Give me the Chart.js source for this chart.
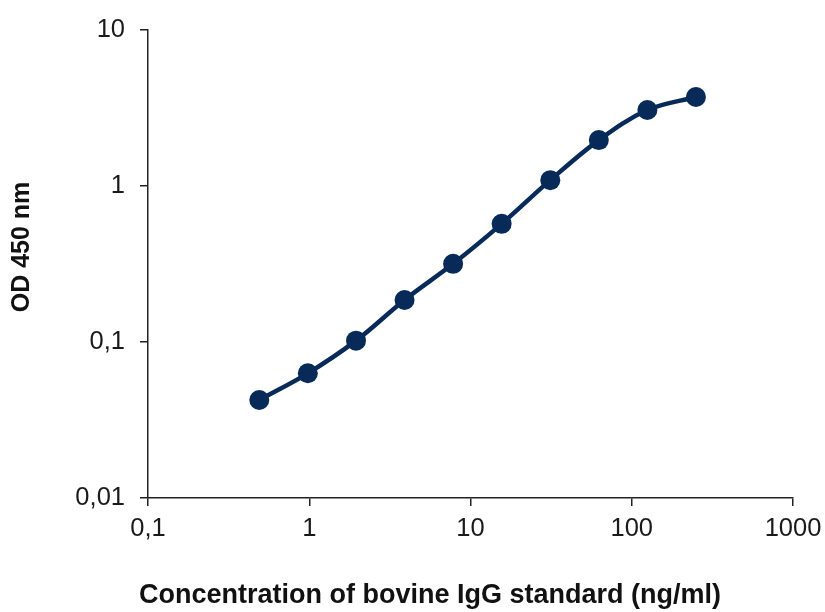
<!DOCTYPE html>
<html>
<head>
<meta charset="utf-8">
<script src="https://cdn.jsdelivr.net/npm/chart.js@4.4.1/dist/chart.umd.min.js"></script>
<style>
    html, body { margin: 0; padding: 0; background: #fff; }
    #wrap { width: 825px; height: 612px; }
</style>
</head>
<body>
<div id="wrap"><canvas id="curveChart"></canvas></div>
<script>
// Bovine IgG standard curve (2-fold dilutions)
const concentrations = [0.49, 0.98, 1.95, 3.9, 7.8, 15.6, 31.25, 62.5, 125, 250];
const odValues = [0.0425, 0.063, 0.102, 0.186, 0.317, 0.572, 1.09, 1.97, 3.07, 3.72];
const xTicks = [0.1, 1, 10, 100, 1000];
const yTicks = [0.01, 0.1, 1, 10];
const xTitle = 'Concentration of bovine IgG standard (ng/ml)';
const yTitle = 'OD 450 nm';

const navy = '#072a58';
const axisColor = '#222222';
const fontFamily = 'Arial, "Liberation Sans", Helvetica, sans-serif';

// Decimal comma, like the original
function formatTick(value) {
    return String(value).replace('.', ',');
}

const points = concentrations.map((c, i) => ({ x: c, y: odValues[i] }));

/**
 * Axis titles drawn by hand: in the original they are not centred on the plot area
 */
const axisTitles = {
    id: 'axisTitles',
    afterDraw(chart) {
        const c = chart.ctx;
        c.save();
        c.fillStyle = '#111';
        c.textAlign = 'center';
        c.textBaseline = 'middle';
        c.font = 'bold 27px ' + fontFamily;
        c.fillText(xTitle, 430, 596);
        c.font = 'bold 25px ' + fontFamily;
        c.translate(22, 247);
        c.rotate(-Math.PI / 2);
        c.fillText(yTitle, 0, 0);
        c.restore();
    }
};

const ctx = document.getElementById('curveChart');

new Chart(ctx, {
    type: 'line',
    data: {
        datasets: [{
            label: yTitle,
            data: points,
            borderColor: navy,
            backgroundColor: navy,
            borderWidth: 4.5,
            tension: 0.35,
            pointRadius: 10,
            pointHoverRadius: 10,
            pointBackgroundColor: navy,
            pointBorderColor: navy,
            pointBorderWidth: 0,
            fill: false
        }]
    },
    options: {
        responsive: true,
        maintainAspectRatio: false,
        animation: false,
        layout: {
            padding: { left: 0, right: 32, top: 30, bottom: 0 }
        },
        plugins: {
            legend: { display: false },
            tooltip: { enabled: false }
        },
        scales: {
            x: {
                type: 'logarithmic',
                min: 0.1,
                max: 1000,
                afterBuildTicks: function(scale) {
                    scale.ticks = xTicks.map(v => ({ value: v }));
                },
                afterFit: function(scale) {
                    scale.height = 114;
                    // let the layout padding decide the plot edges, not the label widths
                    scale.paddingLeft = 0;
                    scale.paddingRight = 0;
                },
                border: { display: true, color: axisColor, width: 1.5 },
                grid: {
                    display: true,
                    drawOnChartArea: false,
                    drawTicks: true,
                    tickLength: 8,
                    color: axisColor,
                    lineWidth: 1.5
                },
                ticks: {
                    autoSkip: false,
                    maxRotation: 0,
                    padding: 8,
                    color: '#1a1a1a',
                    font: { family: fontFamily, size: 25.5 },
                    callback: formatTick
                }
            },
            y: {
                type: 'logarithmic',
                min: 0.01,
                max: 10,
                afterBuildTicks: function(scale) {
                    scale.ticks = yTicks.map(v => ({ value: v }));
                },
                afterFit: function(scale) {
                    scale.width = 148;
                    scale.paddingTop = 0;
                    scale.paddingBottom = 0;
                },
                border: { display: true, color: axisColor, width: 1.5 },
                grid: {
                    display: true,
                    drawOnChartArea: false,
                    drawTicks: true,
                    tickLength: 8,
                    color: axisColor,
                    lineWidth: 1.5
                },
                ticks: {
                    autoSkip: false,
                    padding: 15,
                    color: '#1a1a1a',
                    font: { family: fontFamily, size: 25.5 },
                    callback: formatTick
                }
            }
        }
    },
    plugins: [axisTitles]
});
</script>
</body>
</html>
